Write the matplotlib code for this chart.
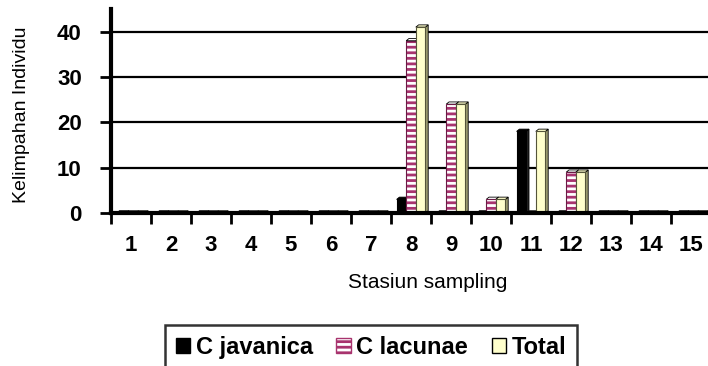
import matplotlib
matplotlib.use("Agg")
import matplotlib.pyplot as plt
from matplotlib.patches import Polygon, Patch

plt.rcParams['font.family'] = ['Liberation Sans', 'DejaVu Sans']
plt.rcParams['hatch.linewidth'] = 2.0

stations = [str(i) for i in range(1, 16)]
c_javanica = [0, 0, 0, 0, 0, 0, 0, 3, 0, 0, 18, 0, 0, 0, 0]
c_lacunae = [0, 0, 0, 0, 0, 0, 0, 38, 24, 3, 0, 9, 0, 0, 0]
total = [0, 0, 0, 0, 0, 0, 0, 41, 24, 3, 18, 9, 0, 0, 0]
series_names = ['C javanica', 'C lacunae', 'Total']
yticks = [0, 10, 20, 30, 40]

fig = plt.figure(figsize=(7.08, 3.66), dpi=100)
ax = fig.add_axes([111 / 708, 1 - 213 / 366, 600 / 708, 204 / 366])
ax.set_xlim(0.5, 15.5)
ax.set_ylim(0, 45)

# horizontal gridlines
for y in yticks[1:]:
    ax.axhline(y, color='black', lw=1.6, zorder=1)

styles = [
    dict(face='black', edge='black', side='#222222', hatch=None, hc=None),
    dict(face='white', edge='#6b1a45', side='#7a2050', hatch='---', hc='#a8336e'),
    dict(face='#ffffcc', edge='#55553a', side='#9c9c70', hatch=None, hc=None),
]
offsets = [-0.24, 0.0, 0.24]
width = 0.24
depth_x = 0.07
depth_y = 0.5

x = list(range(1, 16))
for values, st, off in zip([c_javanica, c_lacunae, total], styles, offsets):
    for xi, v in zip(x, values):
        left = xi + off - width / 2
        right = left + width
        # side face
        side = Polygon([(right, 0), (right + depth_x, depth_y),
                        (right + depth_x, v + depth_y), (right, v)],
                       closed=True, facecolor=st['side'], edgecolor='black',
                       lw=0.6, zorder=2)
        ax.add_patch(side)
        # top face
        top = Polygon([(left, v), (left + depth_x, v + depth_y),
                       (right + depth_x, v + depth_y), (right, v)],
                      closed=True, facecolor=st['face'], edgecolor='black',
                      lw=0.6, zorder=2)
        ax.add_patch(top)
        if st['hatch']:
            ax.bar(xi + off, v, width=width, color='white', edgecolor=st['hc'],
                   hatch=st['hatch'], lw=0, zorder=3)
            ax.bar(xi + off, v, width=width, fill=False, edgecolor=st['edge'],
                   lw=0.8, zorder=3)
        else:
            ax.bar(xi + off, v, width=width, color=st['face'],
                   edgecolor=st['edge'], lw=0.8, zorder=3)

for s in ['top', 'right']:
    ax.spines[s].set_visible(False)
for s in ['left', 'bottom']:
    ax.spines[s].set_linewidth(3)
    ax.spines[s].set_zorder(5)

ax.set_yticks(yticks)
ax.set_yticklabels([str(t) for t in yticks], fontsize=16, fontweight='bold')
ax.tick_params(axis='y', length=8, width=2, pad=13)

ax.set_xticks(x)
ax.set_xticklabels(stations, fontsize=16, fontweight='bold')
ax.set_xticks([i + 0.5 for i in range(0, 15)], minor=True)
ax.tick_params(axis='x', which='major', length=0, pad=16)
ax.tick_params(axis='x', which='minor', length=8, width=2)

ax.set_xlabel('Stasiun sampling', fontsize=15)
ax.xaxis.set_label_coords((428 - 111) / 600, -(283 - 213) / 204)
ax.xaxis.label.set_va('center')
ax.set_ylabel('Kelimpahan Individu', fontsize=14)
ax.yaxis.set_label_coords(-(111 - 22) / 600, (213 - 115) / 204)
ax.yaxis.label.set_va('center')

handles = [
    Patch(facecolor='black', edgecolor='black'),
    Patch(facecolor='white', edgecolor='#a8336e', hatch='---'),
    Patch(facecolor='#ffffcc', edgecolor='black'),
]
leg = fig.legend(handles, series_names, loc='upper center',
                 bbox_to_anchor=(371 / 708, 1 - 325 / 366), ncol=3,
                 prop=dict(size=17, weight='bold'), frameon=True,
                 fancybox=False, edgecolor='black', handlelength=0.6,
                 handleheight=0.6, handletextpad=0.25, columnspacing=1.0,
                 borderpad=0.45, borderaxespad=0)
leg.get_frame().set_linewidth(1.8)

fig.savefig('out.png', dpi=100)
